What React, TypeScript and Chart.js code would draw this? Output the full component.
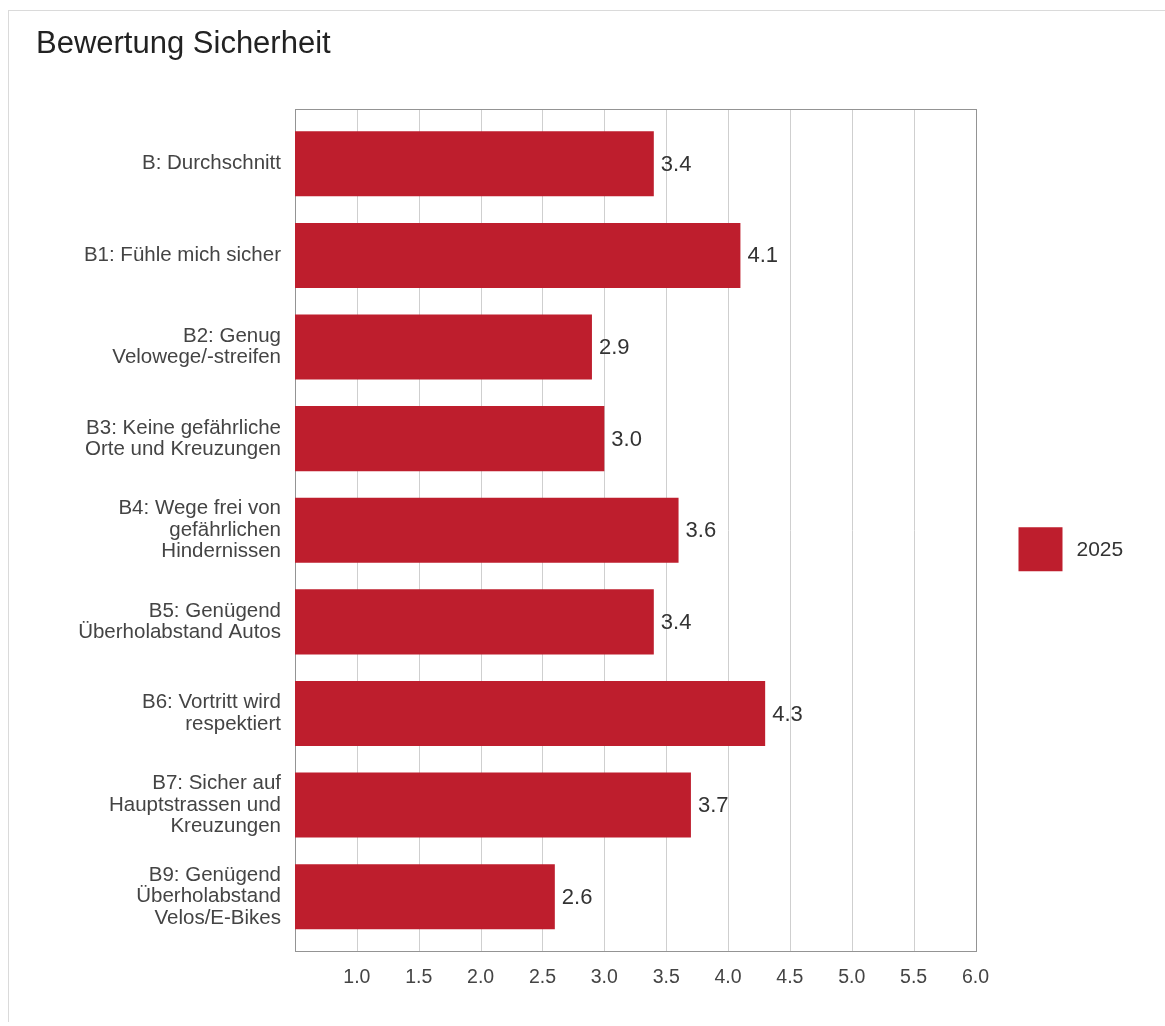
import React, { useEffect, useRef } from "react";
import { Chart, registerables } from "chart.js";

Chart.register(...registerables);

const TITLE = "Bewertung Sicherheit";
const SERIES_LABEL = "2025";
const CATEGORIES: string[][] = [
  ["B: Durchschnitt"],
  ["B1: Fühle mich sicher"],
  ["B2: Genug", "Velowege/-streifen"],
  ["B3: Keine gefährliche", "Orte und Kreuzungen"],
  ["B4: Wege frei von", "gefährlichen", "Hindernissen"],
  ["B5: Genügend", "Überholabstand Autos"],
  ["B6: Vortritt wird", "respektiert"],
  ["B7: Sicher auf", "Hauptstrassen und", "Kreuzungen"],
  ["B9: Genügend", "Überholabstand", "Velos/E-Bikes"],
];
const VALUES: number[] = [3.4, 4.1, 2.9, 3.0, 3.6, 3.4, 4.3, 3.7, 2.6];
const X_MIN = 0.5;
const X_MAX = 6.0;
const X_STEP = 0.5;

const FONT = "'Liberation Sans', Arial, Helvetica, sans-serif";
const BAR_COLOR = "#be1e2d";
const CANVAS_W = 1148;
const CANVAS_H = 1000;

export default function App() {
  const ref = useRef<HTMLCanvasElement>(null);

  useEffect(() => {
    const canvas = ref.current;
    if (!canvas) return;

    const decor = {
      id: "decor",
      beforeDatasetsDraw(chart: any) {
        const { ctx, chartArea } = chart;
        const xs = chart.scales.x;
        const top = Math.round(chartArea.top - 9) + 0.5;
        const bottom = Math.round(chartArea.bottom + 8) + 0.5;
        ctx.save();
        ctx.lineWidth = 1;
        ctx.strokeStyle = "#cfcfcf";
        xs.ticks.forEach((t: any) => {
          if (t.value <= X_MIN + 1e-9 || t.value >= X_MAX - 1e-9) return;
          const px = Math.round(xs.getPixelForValue(t.value)) + 0.5;
          ctx.beginPath();
          ctx.moveTo(px, top);
          ctx.lineTo(px, bottom);
          ctx.stroke();
        });
        ctx.strokeStyle = "#949494";
        const l = Math.round(chartArea.left) + 0.5;
        const r = Math.round(chartArea.right) + 0.5;
        ctx.strokeRect(l, top, r - l, bottom - top);
        ctx.restore();
      },
      afterDatasetsDraw(chart: any) {
        const { ctx } = chart;
        const meta = chart.getDatasetMeta(0);
        ctx.save();
        ctx.font = `22px ${FONT}`;
        ctx.fillStyle = "#333333";
        ctx.textAlign = "left";
        ctx.textBaseline = "middle";
        meta.data.forEach((bar: any, i: number) => {
          const v = chart.data.datasets[0].data[i] as number;
          ctx.fillText(v.toFixed(1), bar.x + 7, bar.y + 1);
        });
        ctx.restore();
      },
      afterDraw(chart: any) {
        const { ctx, chartArea } = chart;
        ctx.save();
        // title
        ctx.font = `31px ${FONT}`;
        ctx.fillStyle = "#222222";
        ctx.textAlign = "left";
        ctx.textBaseline = "alphabetic";
        ctx.fillText(TITLE, 27, 42);
        // legend
        const ds = chart.data.datasets[0];
        const cy = (chartArea.top + chartArea.bottom) / 2 + 19;
        const bx = chartArea.right + 43;
        ctx.fillStyle = ds.backgroundColor;
        ctx.fillRect(bx, cy - 22, 44, 44);
        ctx.font = `21px ${FONT}`;
        ctx.fillStyle = "#333333";
        ctx.textBaseline = "middle";
        ctx.fillText(ds.label, bx + 58, cy + 1);
        ctx.restore();
      },
    };

    const chart = new Chart(canvas, {
      type: "bar",
      data: {
        labels: CATEGORIES,
        datasets: [
          {
            label: SERIES_LABEL,
            data: VALUES,
            backgroundColor: BAR_COLOR,
            borderWidth: 0,
            categoryPercentage: 1,
            barPercentage: 0.71,
          },
        ],
      },
      options: {
        indexAxis: "y",
        animation: false,
        responsive: false,
        maintainAspectRatio: false,
        events: [],
        layout: {
          padding: { top: 107, right: CANVAS_W - 966.5, bottom: 0, left: 0 },
        },
        plugins: {
          legend: { display: false },
          tooltip: { enabled: false },
          title: { display: false },
        },
        scales: {
          x: {
            type: "linear",
            min: X_MIN,
            max: X_MAX,
            grid: { display: false, drawTicks: false },
            border: { display: false },
            ticks: {
              stepSize: X_STEP,
              autoSkip: false,
              maxRotation: 0,
              padding: 23,
              color: "#444444",
              font: { family: FONT, size: 19.5 },
              callback: (v: any) => (Math.abs(Number(v) - X_MIN) < 1e-9 ? "" : Number(v).toFixed(1)),
            },
            afterFit: (scale: any) => {
              scale.height = CANVAS_H - 931.5;
            },
          },
          y: {
            type: "category",
            offset: true,
            grid: { display: false, drawTicks: false },
            border: { display: false },
            ticks: {
              autoSkip: false,
              padding: 14,
              color: "#444444",
              font: { family: FONT, size: 20.5, lineHeight: 1.05 },
            },
            afterFit: (scale: any) => {
              scale.width = 286;
            },
          },
        },
      },
      plugins: [decor],
    } as any);

    return () => chart.destroy();
  }, []);

  return (
    <div
      style={{
        position: "absolute",
        left: 8,
        top: 10,
        width: 1157,
        height: 1012,
        boxSizing: "border-box",
        borderTop: "1px solid #dadada",
        borderLeft: "1px solid #dadada",
        overflow: "hidden",
        background: "#fff",
      }}
    >
      <canvas
        ref={ref}
        width={CANVAS_W}
        height={CANVAS_H}
        style={{ display: "block", width: CANVAS_W, height: CANVAS_H }}
      />
    </div>
  );
}
